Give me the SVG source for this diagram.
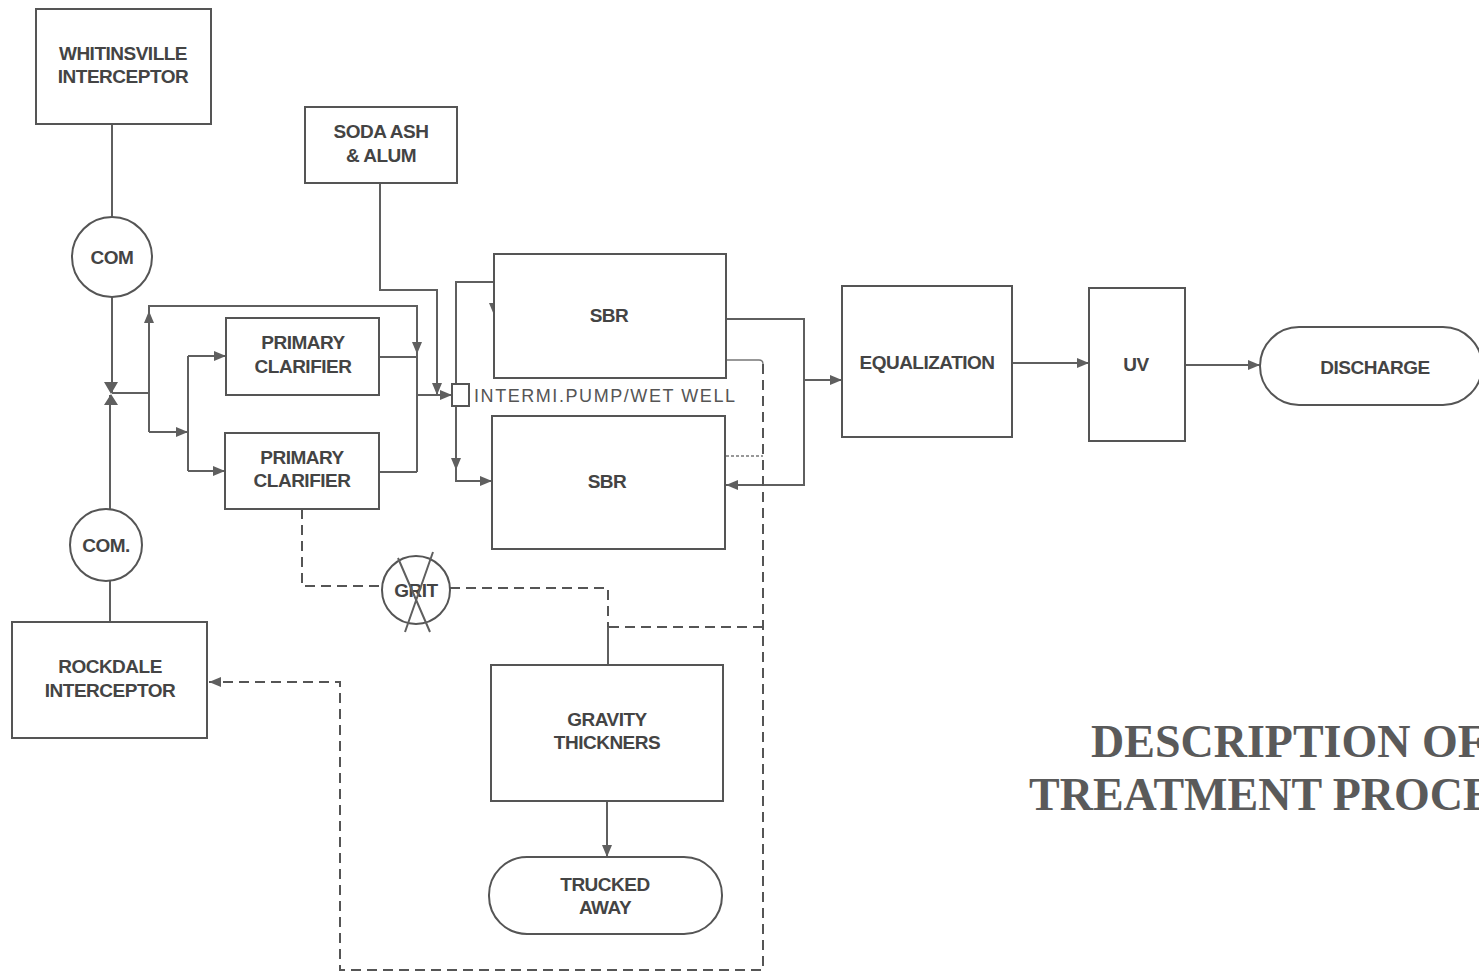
<svg xmlns="http://www.w3.org/2000/svg" width="1479" height="976" viewBox="0 0 1479 976">
<defs>
<style>
.box{fill:#fff;stroke:#555;stroke-width:2}
.t{font-family:"Liberation Sans",Arial,sans-serif;font-weight:bold;font-size:19px;fill:#444;text-anchor:middle;letter-spacing:-0.5px}
.ln{fill:none;stroke:#5f5f5f;stroke-width:2}
.thin{fill:none;stroke:#777;stroke-width:1.3}
.dash{fill:none;stroke:#555;stroke-width:2;stroke-dasharray:10 6}
.ttl{font-family:"Liberation Serif","Times New Roman",serif;font-weight:bold;font-size:46px;fill:#5a5a5a}
</style>
<marker id="ah" viewBox="0 0 12 10" refX="12" refY="5" markerWidth="12" markerHeight="10" orient="auto" markerUnits="userSpaceOnUse">
<path d="M0,0 L12,5 L0,10 Z" fill="#5f5f5f"/>
</marker>
</defs>
<rect width="1479" height="976" fill="#fff"/>

<g id="connectors">
<path class="ln" d="M112,124 V217"/>
<path class="ln" d="M112,297 V393"/>
<path class="ln" d="M110,509 V395"/>
<path class="ln" d="M110,622 V581"/>
<path class="ln" d="M112,393 H149"/>
<path class="ln" d="M149,432 V306 H417 V472"/>
<path class="ln" d="M149,340 V311" marker-end="url(#ah)"/>
<path class="ln" d="M417,330 V354" marker-end="url(#ah)"/>
<path class="ln" d="M149,432 H188" marker-end="url(#ah)"/>
<path class="ln" d="M188,356 V471"/>
<path class="ln" d="M188,356 H226" marker-end="url(#ah)"/>
<path class="ln" d="M188,471 H225" marker-end="url(#ah)"/>
<path class="ln" d="M379,357 H417"/>
<path class="ln" d="M379,472 H417"/>
<path class="ln" d="M417,395 H452" marker-end="url(#ah)"/>
<path class="ln" d="M380,183 V290 H437 V395" marker-end="url(#ah)"/>
<path class="ln" d="M456,384 V282 H494 V315" marker-end="url(#ah)"/>
<path class="ln" d="M456,406 V470" marker-end="url(#ah)"/>
<path class="ln" d="M456,466 V481 H492" marker-end="url(#ah)"/>
<path class="ln" d="M726,319 H804 V485 H726" marker-end="url(#ah)"/>
<path class="ln" d="M804,380 H842" marker-end="url(#ah)"/>
<path class="ln" d="M1012,363 H1089" marker-end="url(#ah)"/>
<path class="ln" d="M1185,365 H1260" marker-end="url(#ah)"/>
<path class="thin" d="M726,360 H759 Q763,360 763,364"/>
<path class="thin" stroke-dasharray="3 2" d="M726,456 H763"/>
<path class="dash" d="M763,364 V970 H340 V682 H209" marker-end="url(#ah)"/>
<path class="dash" d="M763,627 H608"/>
<path class="dash" d="M302,509 V586 H382"/>
<path class="dash" d="M450,588 H608 V627"/>
<path class="ln" d="M608,627 V665"/>
<path class="ln" d="M607,801 V857" marker-end="url(#ah)"/>
</g>

<g id="valve">
<path d="M104,382 L118,382 L111,394 Z M104,405 L118,405 L111,394 Z" fill="#5f5f5f"/>
</g>

<g id="whitinsville">
<rect class="box" x="36" y="9" width="175" height="115"/>
<text class="t" x="123" y="60">WHITINSVILLE</text>
<text class="t" x="123" y="83">INTERCEPTOR</text>
</g>
<g id="com1">
<circle class="box" cx="112" cy="257" r="40"/>
<text class="t" x="112" y="264">COM</text>
</g>
<g id="com2">
<circle class="box" cx="106" cy="545" r="36"/>
<text class="t" x="106" y="552">COM.</text>
</g>
<g id="rockdale">
<rect class="box" x="12" y="622" width="195" height="116"/>
<text class="t" x="110" y="673">ROCKDALE</text>
<text class="t" x="110" y="697">INTERCEPTOR</text>
</g>
<g id="soda">
<rect class="box" x="305" y="107" width="152" height="76"/>
<text class="t" x="381" y="138">SODA ASH</text>
<text class="t" x="381" y="162">&amp; ALUM</text>
</g>
<g id="clarifier1">
<rect class="box" x="226" y="318" width="153" height="77"/>
<text class="t" x="303" y="349">PRIMARY</text>
<text class="t" x="303" y="373">CLARIFIER</text>
</g>
<g id="clarifier2">
<rect class="box" x="225" y="433" width="154" height="76"/>
<text class="t" x="302" y="464">PRIMARY</text>
<text class="t" x="302" y="487">CLARIFIER</text>
</g>
<g id="pump">
<rect class="box" x="452" y="384" width="17" height="22"/>
<text x="474" y="402" textLength="261" style="font-family:'Liberation Sans',Arial,sans-serif;font-size:18px;fill:#555">INTERMI.PUMP/WET WELL</text>
</g>
<g id="sbr1">
<rect class="box" x="494" y="254" width="232" height="124"/>
<text class="t" x="609" y="322">SBR</text>
</g>
<g id="sbr2">
<rect class="box" x="492" y="416" width="233" height="133"/>
<text class="t" x="607" y="488">SBR</text>
</g>
<g id="equalization">
<rect class="box" x="842" y="286" width="170" height="151"/>
<text class="t" x="927" y="369">EQUALIZATION</text>
</g>
<g id="uv">
<rect class="box" x="1089" y="288" width="96" height="153"/>
<text class="t" x="1136" y="371">UV</text>
</g>
<g id="discharge">
<rect class="box" x="1260" y="327" width="222" height="78" rx="39"/>
<text class="t" x="1375" y="374">DISCHARGE</text>
</g>
<g id="grit">
<circle class="box" cx="416" cy="590" r="34"/>
<text class="t" x="416" y="597">GRIT</text>
<path class="ln" d="M433,552 L405,632 M398,558 L430,632"/>
</g>
<g id="thickeners">
<rect class="box" x="491" y="665" width="232" height="136"/>
<text class="t" x="607" y="726">GRAVITY</text>
<text class="t" x="607" y="749">THICKNERS</text>
</g>
<g id="trucked">
<rect class="box" x="489" y="857" width="233" height="77" rx="38"/>
<text class="t" x="605" y="891">TRUCKED</text>
<text class="t" x="605" y="914">AWAY</text>
</g>
<g id="title">
<text class="ttl" x="1091" y="757">DESCRIPTION OF</text>
<text class="ttl" x="1029" y="810">TREATMENT PROCESS</text>
</g>
</svg>
